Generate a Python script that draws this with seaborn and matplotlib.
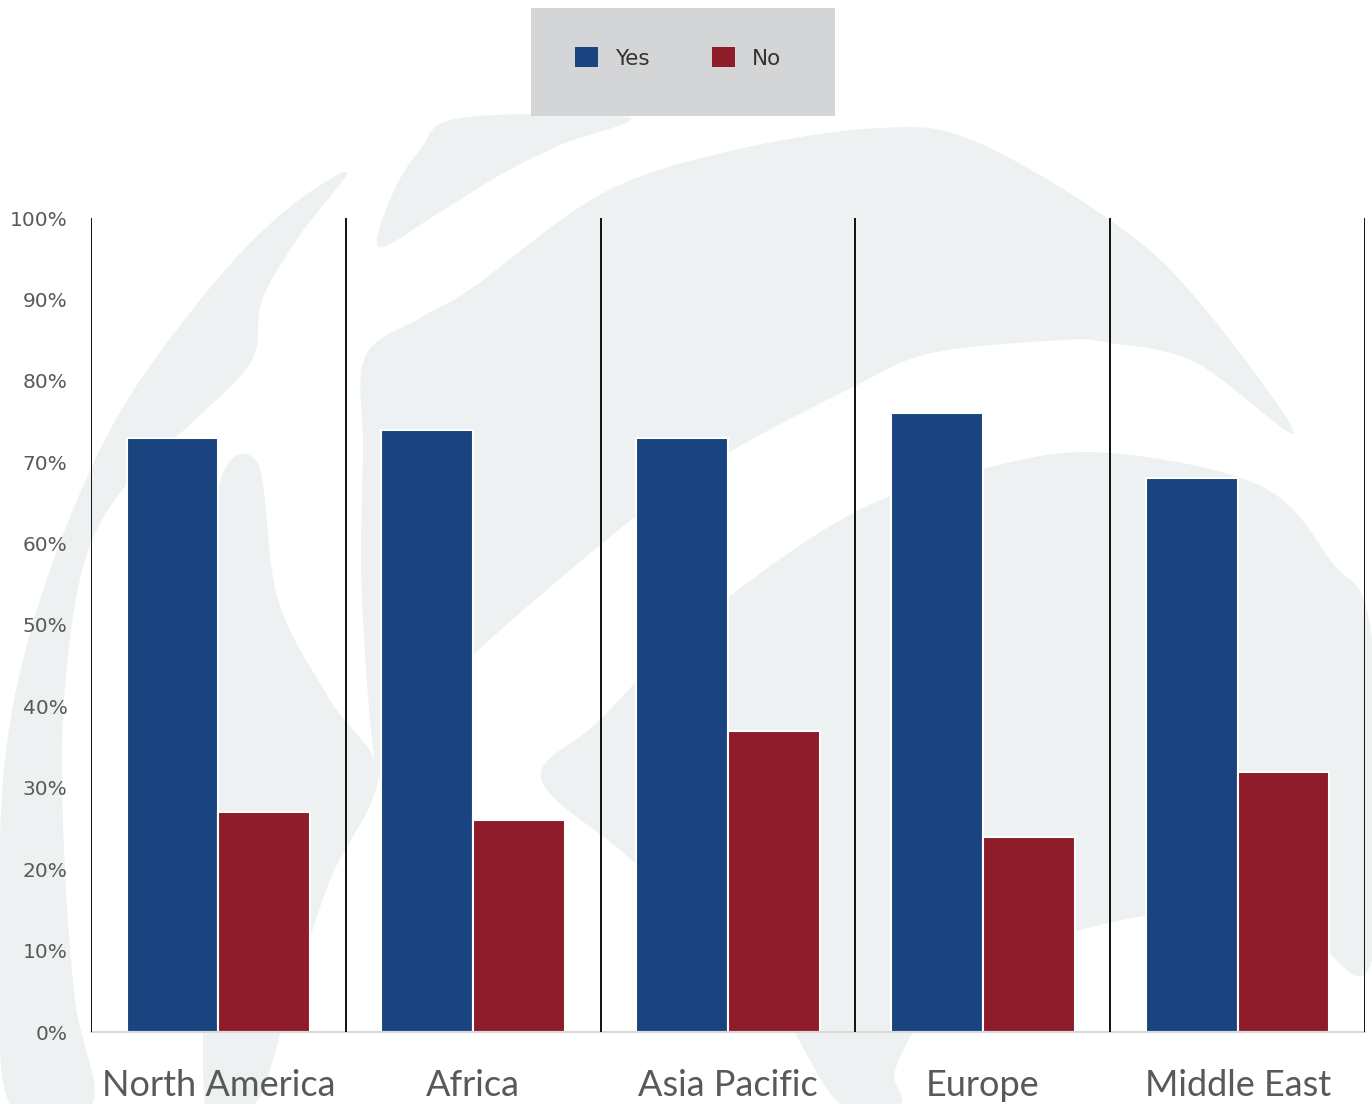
import numpy as np
import pandas as pd
import matplotlib
matplotlib.use("Agg")
import matplotlib.pyplot as plt
from matplotlib.patches import Polygon, Rectangle, Patch
from matplotlib.ticker import FuncFormatter
import seaborn as sns

# Survey answers by region (percent of respondents)
regions = ["North America", "Africa", "Asia Pacific", "Europe", "Middle East"]
yes_pct = [73, 74, 73, 76, 68]
no_pct = [27, 26, 37, 24, 32]
answers = ["Yes", "No"]
colors = {"Yes": "#1a4480", "No": "#8f1c2a"}
ytick_vals = list(range(0, 101, 10))

df = pd.DataFrame({
    "region": regions * 2,
    "answer": ["Yes"] * len(regions) + ["No"] * len(regions),
    "pct": yes_pct + no_pct,
})

sns.set_theme(style="white")
plt.rcParams["font.family"] = ["DejaVu Sans"]

W, H = 1372, 1104
fig = plt.figure(figsize=(W / 100, H / 100), dpi=100, facecolor="white")

# Background layer in pixel coordinates for the faint globe emblem
bg = fig.add_axes([0, 0, 1, 1], zorder=0)
bg.set_xlim(0, W)
bg.set_ylim(H, 0)
bg.axis("off")


def smooth(points, n=12):
    """Closed Catmull-Rom curve through the given anchor points."""
    p = np.asarray(points, dtype=float)
    out = []
    m = len(p)
    for i in range(m):
        p0, p1, p2, p3 = p[i - 1], p[i], p[(i + 1) % m], p[(i + 2) % m]
        for t in np.linspace(0, 1, n, endpoint=False):
            t2, t3 = t * t, t * t * t
            out.append(0.5 * ((2 * p1) + (-p0 + p2) * t
                              + (2 * p0 - 5 * p1 + 4 * p2 - p3) * t2
                              + (-p0 + 3 * p1 - 3 * p2 + p3) * t3))
    return np.array(out)


emblem = "#eef1f2"
shapes = [
    # left crescent
    [(10, 1104), (0, 950), (5, 760), (40, 600), (110, 430), (200, 300), (280, 215),
     (347, 172), (300, 235), (262, 300), (252, 360), (195, 420), (130, 480),
     (85, 560), (64, 700), (64, 850), (75, 1000), (92, 1104)],
    # inner sliver
    [(257, 462), (278, 600), (330, 700), (378, 776), (330, 880), (290, 1000),
     (255, 1104), (205, 1104), (212, 800), (215, 505)],
    # top swoosh
    [(379, 247), (392, 195), (420, 150), (460, 118), (629, 117), (560, 145),
     (500, 175), (440, 212)],
    # large band
    [(378, 776), (362, 600), (363, 450), (365, 357), (420, 318), (472, 288),
     (603, 193), (735, 150), (879, 128), (972, 140), (1110, 220), (1195, 297),
     (1294, 433), (1195, 362), (1110, 343), (1064, 340), (932, 353), (853, 387),
     (728, 453), (636, 516), (472, 656), (405, 735)],
    # lower right disk
    [(541, 778), (600, 720), (700, 620), (855, 512), (998, 465), (1110, 453),
     (1261, 486), (1330, 560), (1372, 640), (1372, 960), (1300, 930),
     (1200, 912), (1100, 925), (1000, 960), (930, 1010), (895, 1070),
     (900, 1104), (840, 1104), (780, 1010), (700, 920), (620, 850)],
]
for pts in shapes:
    bg.add_patch(Polygon(smooth(pts), closed=True, facecolor=emblem,
                         edgecolor="none"))

# Legend panel
bg.add_patch(Rectangle((531, 8), 304, 108, facecolor="#d4d5d7", edgecolor="none"))

# Main chart
ax = fig.add_axes([91 / W, 1 - 1032 / H, 1274 / W, 814 / H], zorder=1)
ax.set_facecolor("none")
sns.barplot(data=df, x="region", y="pct", hue="answer", order=regions,
            hue_order=answers, palette=colors, saturation=1, width=0.72,
            edgecolor="white", linewidth=1.5, ax=ax, legend=False)

ax.set_xlim(-0.5, len(regions) - 0.5)
ax.set_ylim(0, 100)
ax.vlines(np.arange(len(regions) + 1) - 0.5, 0, 100, color="#111111",
          linewidth=1.4, zorder=3)

for side in ["top", "right", "left"]:
    ax.spines[side].set_visible(False)
ax.spines["bottom"].set_color("#d9d9d9")
ax.spines["bottom"].set_linewidth(1.5)

ax.set_yticks(ytick_vals)
ax.yaxis.set_major_formatter(FuncFormatter(lambda v, _: f"{v:.0f}%"))
ax.tick_params(axis="y", length=0, pad=17, labelsize=14.5, labelcolor="#595959")
ax.tick_params(axis="x", length=0, pad=27, labelsize=26, labelcolor="#595959")
for lab in ax.get_xticklabels():
    lab.set_fontfamily(["Lato", "DejaVu Sans"])
ax.set_xlabel("")
ax.set_ylabel("")

handles = [Patch(facecolor=colors[a], edgecolor="none") for a in answers]
fig.legend(handles, answers, loc="center", bbox_to_anchor=(678 / W, 1 - 58 / H),
           ncol=2, frameon=False, fontsize=15.5, labelcolor="#333333",
           handlelength=1.05, handleheight=1.05, handletextpad=0.8,
           columnspacing=2.9)

fig.savefig("out.png", dpi=100, facecolor="white")
